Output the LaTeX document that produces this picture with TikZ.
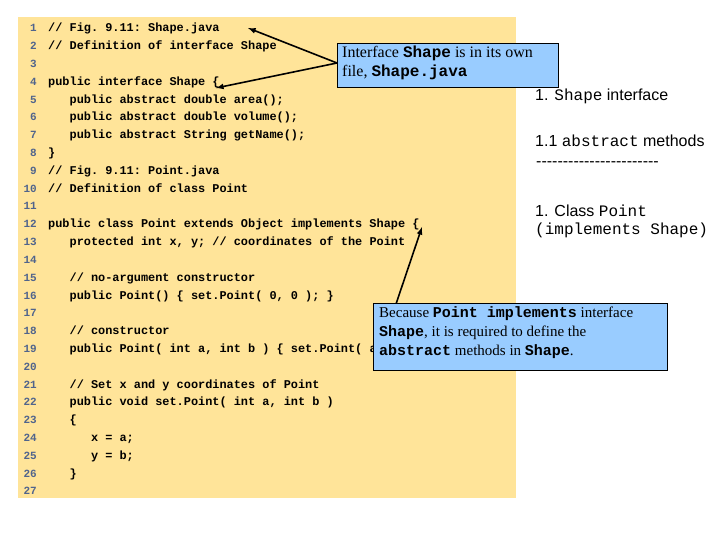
\documentclass[tikz,border=0pt]{standalone}
\usepackage{fontspec}
\setmainfont{Liberation Serif}
\setsansfont{Liberation Sans}
\setmonofont{Liberation Mono}
\begin{document}
\begin{tikzpicture}[x=1pt,y=-1pt,
  code/.style={anchor=base west,inner sep=0,font=\ttfamily\bfseries\fontsize{11.9}{12}\selectfont},
  num/.style={anchor=base east,inner sep=0,text=numc,font=\ttfamily\bfseries\fontsize{11}{12}\selectfont},
  callout/.style={draw=black,fill=callc,line width=0.8pt,inner sep=0,anchor=north west},
  note/.style={anchor=base west,inner sep=0,font=\sffamily\fontsize{16}{18}\selectfont},
  arr/.style={-latex,line width=1.6pt}]
\definecolor{panel}{RGB}{255,228,153}
\definecolor{callc}{RGB}{153,204,255}
\definecolor{numc}{RGB}{80,100,140}
\useasboundingbox (0,0) rectangle (720,540);
\fill[panel] (18,17) rectangle (516,498);
\foreach \i/\t in {1/{// Fig. 9.11: Shape.java},2/{// Definition of interface Shape},3/{},
 4/{public interface Shape \{},5/{\ \ \ public abstract double area();},6/{\ \ \ public abstract double volume();},
 7/{\ \ \ public abstract String getName();},8/{\}},9/{// Fig. 9.11: Point.java},10/{// Definition of class Point},11/{},
 12/{public class Point extends Object implements Shape \{},13/{\ \ \ protected int x, y; // coordinates of the Point},14/{},
 15/{\ \ \ // no-argument constructor},16/{\ \ \ public Point() \{ set.Point( 0, 0 ); \}},17/{},
 18/{\ \ \ // constructor},19/{\ \ \ public Point( int a, int b ) \{ set.Point( a, b ); \}},20/{},
 21/{\ \ \ // Set x and y coordinates of Point},22/{\ \ \ public void set.Point( int a, int b )},23/{\ \ \ \{},
 24/{\ \ \ \ \ \ x = a;},25/{\ \ \ \ \ \ y = b;},26/{\ \ \ \}},27/{}}
{
  \node[num] (n\i) at (37,{32+(\i-1)*17.8}) {\i};
  \node[code] (c\i) at (48,{32+(\i-1)*17.8}) {\t};
}
\node[callout,minimum width=221,minimum height=44] (b1) at (337,43) {};
\node[anchor=north west,align=left,inner sep=0,font=\fontsize{16}{19}\selectfont] (t1) at (342,46)
 {Interface \texttt{\textbf{Shape}} is in its own\\file, \texttt{\textbf{Shape.java}}};
\coordinate (a1) at (248,28);
\coordinate (a2) at (216,88);
\draw[arr] (337,63) -- (a1);
\draw[arr] (337,63) -- (a2);
\coordinate (a3) at (422,227);
\draw[arr] (396,304) -- (a3);
\node[callout,minimum width=294,minimum height=67] (b2) at (373,303) {};
\node[anchor=north west,align=left,inner sep=0,font=\fontsize{15}{19}\selectfont] (t2) at (379,306)
 {Because \texttt{\textbf{Point implements}} interface\\\texttt{\textbf{Shape}}, it is required to define the\\\texttt{\textbf{abstract}} methods in \texttt{\textbf{Shape}}.};
\node[note] (r1) at (535,101) {1. \texttt{Shape} interface};
\node[note] (r2) at (535,147) {1.1 \texttt{abstract} methods};
\node[note] (r3) at (536,167) {\foreach \k in {1,...,23}{-\kern0pt}};
\node[note] (r4) at (535,216) {1. Class \texttt{Point}};
\node[note] (r5) at (535,235) {\texttt{(implements Shape)}};
\end{tikzpicture}
\end{document}
